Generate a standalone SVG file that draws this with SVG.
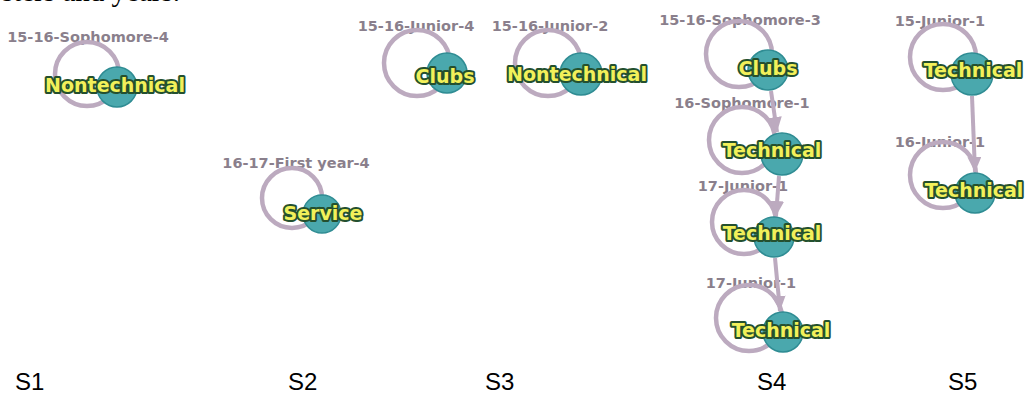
<svg xmlns="http://www.w3.org/2000/svg" width="1026" height="395" viewBox="0 0 1026 395">
<style>
.lbl{font-family:"DejaVu Sans",sans-serif;font-weight:bold;font-size:14.5px;fill:#8a7f8c;text-anchor:middle}
.loop{fill:none;stroke:#bcaabf;stroke-width:4.5}
.nc{fill:#4aa8ad;stroke:#2f8c93;stroke-width:1.5}
.nt{font-family:"DejaVu Sans",sans-serif;font-weight:bold;font-size:19px;fill:#f2f05a;stroke:#24502f;stroke-width:4;stroke-linejoin:round;paint-order:stroke;text-anchor:middle}
.edge{fill:none;stroke:#bcaabf;stroke-width:4;marker-end:url(#arr)}
.ax{font-family:"Liberation Sans",sans-serif;font-size:24px;fill:#000}
.top{font-family:"Liberation Serif",serif;font-size:29px;fill:#000}
</style>
<defs>
<marker id="arr" markerUnits="userSpaceOnUse" markerWidth="16" markerHeight="14" refX="15" refY="7" orient="auto">
<path d="M0,0 L15,7 L0,14 Z" fill="#bcaabf"/>
</marker>
</defs>
<rect width="1026" height="395" fill="#fff"/>
<text class="top" x="2" y="1">sters and years.</text>

<g id="s1-nontechnical">
<text class="lbl" x="88" y="42">15-16-Sophomore-4</text>
<circle class="loop" cx="87" cy="74" r="32"/>
<circle class="nc" cx="117" cy="87" r="20"/>
<text class="nt" x="115" y="92">Nontechnical</text>
</g>
<g id="s2-service">
<text class="lbl" x="296" y="168">16-17-First year-4</text>
<circle class="loop" cx="292" cy="198" r="30"/>
<circle class="nc" cx="322" cy="214" r="19"/>
<text class="nt" x="323" y="220">Service</text>
</g>
<g id="s3-clubs">
<text class="lbl" x="416" y="31">15-16-Junior-4</text>
<circle class="loop" cx="417" cy="63" r="33"/>
<circle class="nc" cx="447" cy="73" r="20"/>
<text class="nt" x="445" y="83">Clubs</text>
</g>
<g id="s3-nontechnical">
<text class="lbl" x="550" y="31">15-16-Junior-2</text>
<circle class="loop" cx="548" cy="63" r="33"/>
<circle class="nc" cx="581" cy="74" r="21"/>
<text class="nt" x="577" y="81">Nontechnical</text>
</g>
<g id="s4-clubs">
<text class="lbl" x="740" y="25">15-16-Sophomore-3</text>
<circle class="loop" cx="739" cy="54" r="33"/>
<circle class="nc" cx="768" cy="70" r="20"/>
<text class="nt" x="768" y="75">Clubs</text>
</g>
<g id="s4-technical-1">
<text class="lbl" x="742" y="108">16-Sophomore-1</text>
<circle class="loop" cx="742" cy="140" r="33"/>
<circle class="nc" cx="782" cy="154" r="21"/>
<text class="nt" x="772" y="157">Technical</text>
</g>
<g id="s4-technical-2">
<text class="lbl" x="743" y="191">17-Junior-1</text>
<circle class="loop" cx="744" cy="222" r="32"/>
<circle class="nc" cx="774" cy="237" r="20"/>
<text class="nt" x="772" y="240">Technical</text>
</g>
<g id="s4-technical-3">
<text class="lbl" x="751" y="288">17-Junior-1</text>
<circle class="loop" cx="749" cy="318" r="33"/>
<circle class="nc" cx="783" cy="332" r="20"/>
<text class="nt" x="781" y="337">Technical</text>
</g>
<g id="s5-technical-1">
<text class="lbl" x="940" y="26">15-Junior-1</text>
<circle class="loop" cx="943" cy="57" r="33"/>
<circle class="nc" cx="972" cy="74" r="21"/>
<text class="nt" x="973" y="77">Technical</text>
</g>
<g id="s5-technical-2">
<text class="lbl" x="940" y="147">16-Junior-1</text>
<circle class="loop" cx="943" cy="175" r="33"/>
<circle class="nc" cx="975" cy="193" r="20"/>
<text class="nt" x="974" y="197">Technical</text>
</g>

<g id="connectors">
<path class="edge" d="M771,91 L777,132"/>
<path class="edge" d="M779,176 L776,216"/>
<path class="edge" d="M775,258 L780,311"/>
<path class="edge" d="M972,96 L975,172"/>
</g>

<g id="axis">
<text class="ax" x="15" y="390">S1</text>
<text class="ax" x="288" y="390">S2</text>
<text class="ax" x="485" y="390">S3</text>
<text class="ax" x="757" y="390">S4</text>
<text class="ax" x="948" y="390">S5</text>
</g>
</svg>
